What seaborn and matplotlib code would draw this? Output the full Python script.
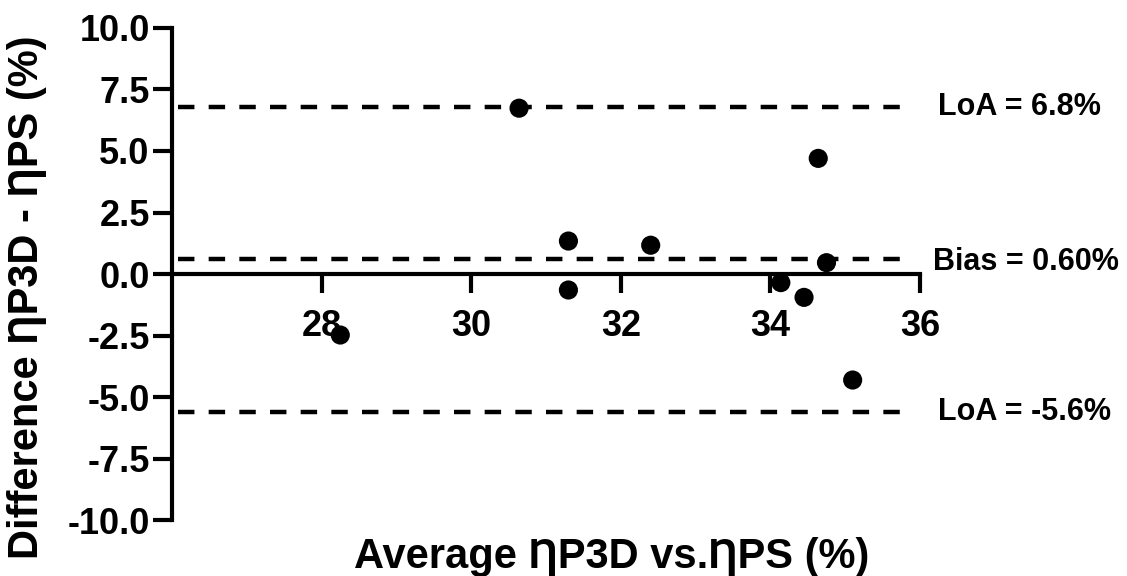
import pandas as pd
import seaborn as sns
import matplotlib.pyplot as plt

sns.set_style("ticks")
plt.rcParams['font.family'] = ['Liberation Sans', 'DejaVu Sans']
plt.rcParams['font.weight'] = 'bold'
plt.rcParams['text.color'] = 'black'
plt.rcParams['axes.labelcolor'] = 'black'
plt.rcParams['xtick.color'] = 'black'
plt.rcParams['ytick.color'] = 'black'

# Bland-Altman data
avg_eta = [28.25, 30.64, 31.30, 31.30, 32.40, 34.14, 34.45, 34.64, 34.75, 35.10]
diff_eta = [-2.48, 6.74, 1.34, -0.65, 1.17, -0.35, -0.95, 4.70, 0.46, -4.31]

bias = 0.60
loa_upper = 6.8
loa_lower = -5.6
ref_labels = ['LoA = 6.8%', 'Bias = 0.60%', 'LoA = -5.6%']

x_ticks = [28, 30, 32, 34, 36]
y_ticks = [-10.0, -7.5, -5.0, -2.5, 0.0, 2.5, 5.0, 7.5, 10.0]

df = pd.DataFrame({'avg': avg_eta, 'diff': diff_eta})

fig = plt.figure(figsize=(11.27, 5.76), dpi=100)
ax = fig.add_axes([0.1526, 0.0972, 0.6637, 0.8542])

sns.scatterplot(data=df, x='avg', y='diff', ax=ax, color='black', s=190,
                edgecolor='none', zorder=3)

# reference lines (bias and limits of agreement)
dash = (0, (3.7, 3.2))
for val in [loa_upper, bias, loa_lower]:
    ax.hlines(val, 26.08, 35.84, colors='black', linewidth=3.2, linestyles=dash)

label_pos = [(36.24, loa_upper), (36.17, bias - 0.12), (36.24, loa_lower)]
for (tx, ty), lab in zip(label_pos, ref_labels):
    ax.text(tx, ty, lab, fontsize=22, fontweight='bold', va='center', ha='left',
            color='black', clip_on=False)

ax.set_xlim(26, 36)
ax.set_ylim(-10, 10)
ax.set_xticks(x_ticks)
ax.set_yticks(y_ticks)
ax.set_yticklabels([f'{v:.1f}' for v in y_ticks])

ax.spines['bottom'].set_position(('data', 0))
ax.spines['top'].set_visible(False)
ax.spines['right'].set_visible(False)
for side in ['left', 'bottom']:
    ax.spines[side].set_linewidth(3.0)
    ax.spines[side].set_color('black')

ax.tick_params(axis='both', length=14, width=3.0, color='black',
               labelcolor='black', labelsize=26)
ax.tick_params(axis='x', pad=11)
ax.tick_params(axis='y', pad=2)
for lbl in ax.get_xticklabels() + ax.get_yticklabels():
    lbl.set_fontweight('bold')

ax.set_xlabel('Average ȠP3D vs.ȠPS (%)', fontsize=30, fontweight='bold', color='black')
ax.set_ylabel('Difference ȠP3D - ȠPS (%)', fontsize=30, fontweight='bold', color='black')
ax.xaxis.set_label_coords(0.588, -0.035)
ax.yaxis.set_label_coords(-0.167, 0.453)

fig.savefig('out.png', dpi=100)
